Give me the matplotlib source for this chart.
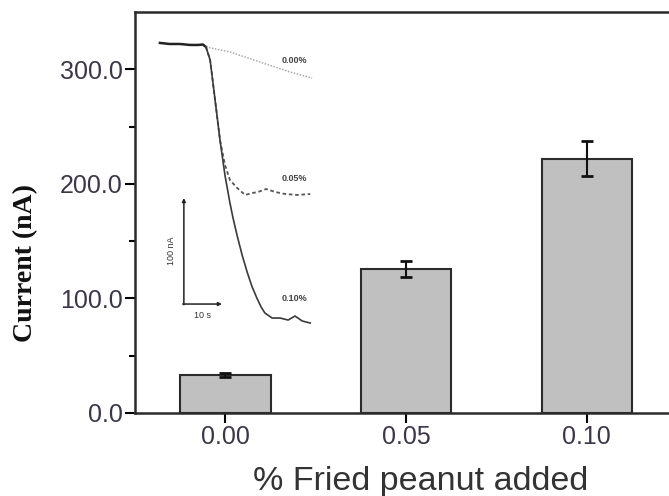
import matplotlib.pyplot as plt
import numpy as np

# Bar data: current change vs. amount of fried peanut added
conc = [0.00, 0.05, 0.10]
conc_labels = ['0.00', '0.05', '0.10']
current = [33, 126, 222]
current_err = [2, 7, 15]

# Amperometric traces for the inset (time in s, current in nA)
base_t = [0.0, 2.6, 5.3, 7.9, 10.0, 11.3, 12.1]
base_i = [270.8, 269.8, 269.8, 268.9, 268.9, 269.3, 267.0]

t_000 = [12.1, 18.4, 26.3, 34.2, 40.0]
i_000 = [267.0, 262.3, 252.8, 243.4, 237.7]

t_005 = [12.1, 13.2, 14.5, 15.8, 17.1, 18.4, 20.3, 22.4, 24.2, 25.8, 27.9,
         30.3, 32.9, 36.1, 39.5]
i_005 = [267.0, 254.7, 217.0, 179.0, 155.7, 141.5, 134.0, 127.4, 129.2,
         130.2, 133.0, 130.2, 128.3, 127.4, 128.3]

t_010 = [12.1, 13.2, 14.5, 15.8, 17.1, 18.4, 19.2, 20.3, 21.6, 22.9, 24.2,
         25.5, 26.6, 27.6, 29.5, 31.6, 33.7, 35.5, 37.4, 39.5]
i_010 = [267.0, 254.7, 217.0, 179.0, 146.0, 120.0, 106.0, 89.0, 70.8, 55.0,
         41.0, 30.0, 21.7, 16.0, 11.3, 11.3, 9.4, 13.2, 8.5, 6.6]

W, H = 669, 496
fig = plt.figure(figsize=(W / 100, H / 100), dpi=100)

# main axes; right spine falls just outside the canvas
ax = fig.add_axes([135 / W, (H - 413) / H, 542 / W, 401 / H])
ax.bar(conc, current, width=0.025, color='#c0c0c0', edgecolor='#2b2b2b',
       linewidth=1.5, zorder=2)
ax.errorbar(conc, current, yerr=current_err, fmt='none', ecolor='#111111',
            elinewidth=1.5, capsize=4, capthick=2, zorder=3)

ax.set_xlim(-0.025, 0.125)
ax.set_ylim(0, 350)
ax.set_xticks(conc)
ax.set_xticklabels(conc_labels)
ax.set_yticks([0, 100, 200, 300])
ax.set_yticklabels(['0.0', '100.0', '200.0', '300.0'])
ax.set_yticks([50, 150, 250], minor=True)

tick_color = '#3c3648'
ax.tick_params(axis='both', which='major', direction='out', length=7, width=1.5,
               labelsize=18, labelcolor=tick_color, pad=2)
ax.tick_params(axis='y', which='minor', direction='out', length=4, width=1.5)
for lab in ax.get_xticklabels() + ax.get_yticklabels():
    lab.set_family('Liberation Sans')
for side in ['left', 'bottom', 'top', 'right']:
    ax.spines[side].set_linewidth(1.8)
    ax.spines[side].set_color('#2b2b2b')

ax.set_xlabel('% Fried peanut added', fontsize=24.5, family='Liberation Sans',
              color='#333333')
ax.xaxis.set_label_coords(0.527, -0.132)
ax.set_ylabel('Current (nA)', fontsize=20, family='Liberation Serif',
              fontweight='bold', color='#111111')
ax.yaxis.set_label_coords(-0.179, 0.375)

# inset with the raw current traces
ins = fig.add_axes([150 / W, (H - 335) / H, 180 / W, 305 / H])
ins.set_xlim(-2.6, 44.7)
ins.set_ylim(-4.7, 283)
ins.axis('off')

ins.plot(base_t, base_i, color='#222222', lw=1.8)
ins.plot(t_000, i_000, color='#aaaaaa', lw=1.1, ls=(0, (1, 1)))
ins.plot(t_005, i_005, color='#555555', lw=1.3, ls=(0, (2, 1.5)))
ins.plot(t_010, i_010, color='#3a3a3a', lw=1.2)

lbl = dict(fontsize=6.5, fontweight='bold', color='#444444',
           family='Liberation Sans', ha='center', va='center')
ins.text(35.3, 254, '0.00%', **lbl)
ins.text(35.3, 143, '0.05%', **lbl)
ins.text(35.3, 30, '0.10%', **lbl)

# scale bar: 10 s by 100 nA
sx, sy = 6.3, 24.5
ins.annotate('', xy=(sx, sy + 100), xytext=(sx, sy - 0.7),
             arrowprops=dict(arrowstyle='-|>', color='#222222', lw=1.1,
                             mutation_scale=5, shrinkA=0, shrinkB=0))
ins.annotate('', xy=(sx + 10, sy), xytext=(sx - 0.3, sy),
             arrowprops=dict(arrowstyle='-|>', color='#222222', lw=1.1,
                             mutation_scale=5, shrinkA=0, shrinkB=0))
ins.text(sx - 3.2, sy + 50, '100 nA', rotation=90, fontsize=6.5,
         color='#333333', family='Liberation Sans', ha='center', va='center')
ins.text(sx + 5, sy - 11, '10 s', fontsize=6.5, color='#333333',
         family='Liberation Sans', ha='center', va='center')

fig.savefig('out.png', dpi=100)
